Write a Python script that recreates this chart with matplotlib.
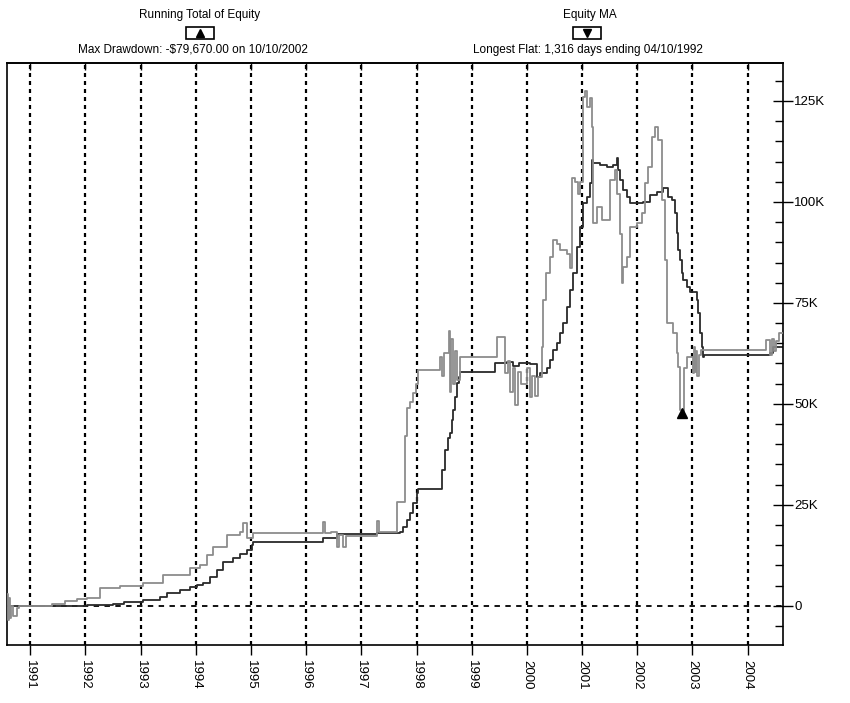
import matplotlib
matplotlib.use("Agg")
import matplotlib.pyplot as plt
from matplotlib.ticker import MultipleLocator, FuncFormatter
from matplotlib.patches import Rectangle

plt.rcParams['font.family'] = ['Liberation Sans', 'DejaVu Sans']

# Running Total of Equity (thousands of $), step series
equity_dates = [1990.58, 1990.60, 1990.62, 1990.64, 1990.66, 1990.68, 1990.76, 1990.80, 1990.86,
                1991.40, 1991.63, 1991.85, 1992.03, 1992.27, 1992.63, 1993.05, 1993.41, 1993.90,
                1994.08, 1994.21, 1994.32, 1994.57, 1994.80, 1994.86, 1994.93, 1995.04,
                1996.31, 1996.35, 1996.45, 1996.56, 1996.60, 1996.67, 1996.72,
                1997.29, 1997.32, 1997.65, 1997.79, 1997.83, 1997.88, 1997.94, 1997.99,
                1998.03, 1998.43, 1998.46, 1998.50, 1998.58, 1998.60, 1998.63, 1998.66,
                1998.70, 1998.74, 1998.79, 1999.46, 1999.61, 1999.66, 1999.70, 1999.74,
                1999.78, 1999.83, 1999.90, 2000.00, 2000.06, 2000.10, 2000.14, 2000.20,
                2000.28, 2000.29, 2000.35, 2000.42, 2000.47, 2000.55, 2000.60, 2000.73,
                2000.78, 2000.82, 2000.87, 2000.93, 2000.96, 2001.02, 2001.05, 2001.09,
                2001.14, 2001.18, 2001.20, 2001.27, 2001.36, 2001.51, 2001.60, 2001.63,
                2001.69, 2001.72, 2001.74, 2001.82, 2001.87, 2002.00, 2002.09, 2002.14,
                2002.20, 2002.27, 2002.32, 2002.38, 2002.45, 2002.50, 2002.54, 2002.56,
                2002.65, 2002.72, 2002.74, 2002.77, 2002.81, 2002.84, 2002.90, 2003.01,
                2003.03, 2003.05, 2003.07, 2003.09, 2003.12, 2003.16, 2004.33, 2004.40,
                2004.44, 2004.48, 2004.52, 2004.56, 2004.64]
equity_vals = [3.0, -3.5, 2.0, -3.0, 0.0, -2.5, -0.5, 0.0, 0.0,
               0.5, 1.2, 1.7, 2.0, 4.5, 5.0, 5.7, 7.7, 9.4,
               10.0, 12.6, 14.6, 17.6, 18.3, 20.5, 16.8, 18.0,
               20.8, 18.0, 18.4, 14.6, 17.5, 14.5, 17.2,
               21.0, 18.3, 25.7, 42.0, 49.0, 50.5, 52.7, 55.0,
               58.4, 61.6, 57.0, 62.6, 68.0, 53.0, 66.0, 55.0,
               63.0, 56.0, 61.6, 66.5, 57.6, 60.5, 53.0, 59.0,
               49.8, 58.0, 55.0, 59.0, 51.7, 57.0, 52.0, 56.7,
               64.0, 75.7, 82.4, 86.4, 90.6, 89.5, 88.0, 87.0,
               83.7, 106.0, 105.0, 102.0, 105.0, 126.0, 127.5, 123.5,
               125.7, 118.6, 94.8, 98.8, 95.5, 105.4, 108.0, 102.0,
               92.0, 80.0, 84.0, 86.4, 93.8, 94.8, 97.3, 104.7,
               108.7, 116.0, 118.6, 115.3, 100.5, 85.6, 70.0, 70.0,
               67.6, 62.6, 59.2, 48.5, 47.8, 59.0, 61.6, 57.7,
               64.0, 58.0, 63.0, 57.0, 62.0, 63.4, 65.8, 62.0,
               66.0, 63.0, 65.5, 67.6, 67.6]

# Equity moving average (thousands of $)
ma_dates = [1990.58, 1992.03, 1992.50, 1992.70, 1993.05, 1993.35, 1993.48, 1993.72, 1993.90,
            1994.03, 1994.14, 1994.26, 1994.39, 1994.50, 1994.68, 1994.80, 1994.93, 1995.02,
            1995.04, 1996.31, 1996.56, 1997.29, 1997.70, 1997.76, 1997.83, 1997.88, 1997.94,
            1998.01, 1998.03, 1998.46, 1998.52, 1998.57, 1998.61, 1998.64, 1998.66, 1998.70,
            1998.74, 1998.77, 1998.79, 1999.42, 1999.64, 1999.75, 1999.85, 2000.05, 2000.18,
            2000.24, 2000.37, 2000.42, 2000.47, 2000.55, 2000.60, 2000.66, 2000.73, 2000.78,
            2000.84, 2000.91, 2000.96, 2001.02, 2001.09, 2001.14, 2001.18, 2001.20, 2001.33,
            2001.45, 2001.56, 2001.63, 2001.65, 2001.69, 2001.74, 2001.82, 2001.87, 2002.11,
            2002.23, 2002.36, 2002.47, 2002.56, 2002.63, 2002.68, 2002.72, 2002.74, 2002.77,
            2002.81, 2002.83, 2002.90, 2002.96, 2003.08, 2003.10, 2003.14, 2003.17, 2003.19,
            2003.21, 2004.35, 2004.41, 2004.46, 2004.64]
ma_vals = [0.0, 0.2, 0.5, 1.0, 1.5, 2.3, 3.2, 4.0, 4.6,
           5.2, 5.6, 7.2, 8.9, 10.9, 11.9, 12.9, 13.9, 15.0,
           15.8, 16.8, 17.8, 18.0, 18.3, 19.6, 21.3, 23.0, 25.5,
           28.0, 29.0, 33.7, 38.6, 41.6, 42.8, 46.0, 48.5, 51.7,
           55.2, 56.7, 58.0, 60.1, 60.4, 59.5, 60.2, 59.8, 56.7,
           57.7, 58.9, 60.9, 63.4, 65.0, 67.6, 70.0, 74.0, 78.2,
           82.4, 88.9, 93.8, 99.8, 101.2, 104.7, 110.4, 109.7, 109.2,
           108.7, 109.2, 111.0, 108.0, 105.4, 103.0, 101.2, 99.8, 100.0,
           101.7, 102.5, 103.5, 101.2, 100.5, 97.3, 92.3, 88.0, 85.6,
           82.4, 80.7, 79.0, 77.7, 75.7, 72.5, 67.6, 64.1, 61.6,
           62.1, 62.1, 62.6, 64.0, 64.0]

years = list(range(1991, 2005))
drawdown_date = 2002.81
drawdown_val = 47.8

fig = plt.figure(figsize=(8.5, 7.03), dpi=100)
ax = fig.add_axes([7 / 850, 58 / 703, 776 / 850, 582 / 703])

for y in years:
    ax.axvline(y, color='black', lw=1.6, ls=(0, (1.8, 1.8)), zorder=1)
ax.axhline(0, color='black', lw=1.3, ls=(0, (3, 3)), zorder=1)

ax.step(equity_dates, equity_vals, where='post', color='#8c8c8c', lw=1.3, zorder=3)
ax.step(ma_dates, ma_vals, where='post', color='#2a2a2a', lw=1.3, zorder=2)
ax.plot([drawdown_date], [drawdown_val], marker='^', color='black', ms=7, zorder=4)

ax.set_xlim(1990.58, 2004.64)
ax.set_ylim(-9.7, 134.4)

ax.set_xticks(years)
ax.set_xticklabels([str(y) for y in years], rotation=270, fontsize=9.5)
ax.tick_params(axis='x', direction='out', length=7, width=1, pad=4)

top = ax.secondary_xaxis('top')
top.set_xticks(years)
top.set_xticklabels([])
top.tick_params(direction='in', length=5, width=1)
top.spines['top'].set_linewidth(1.2)

ax.yaxis.tick_right()
ax.yaxis.set_major_locator(MultipleLocator(25))
ax.yaxis.set_minor_locator(MultipleLocator(5))
ax.yaxis.set_major_formatter(FuncFormatter(lambda v, p: '0' if v == 0 else '%dK' % v))
ax.tick_params(axis='y', which='major', direction='inout', length=14, width=1, labelsize=9.5, pad=1)
ax.tick_params(axis='y', which='minor', direction='in', length=6, width=1)
for s in ax.spines.values():
    s.set_linewidth(1.2)

# legend header
fig.text(200 / 850, 1 - 15 / 703, 'Running Total of Equity', ha='center', va='center', fontsize=8.5)
fig.text(193 / 850, 1 - 50 / 703, 'Max Drawdown: -$79,670.00 on 10/10/2002', ha='center', va='center', fontsize=8.5)
fig.text(590 / 850, 1 - 15 / 703, 'Equity MA', ha='center', va='center', fontsize=8.5)
fig.text(588 / 850, 1 - 50 / 703, 'Longest Flat: 1,316 days ending 04/10/1992', ha='center', va='center', fontsize=8.5)

for cx, mk in [(200, '^'), (587, 'v')]:
    fig.patches.append(Rectangle(((cx - 14) / 850, 1 - 39 / 703), 28 / 850, 12 / 703,
                                 transform=fig.transFigure, fill=False, ec='black', lw=1.2))
    fig.add_artist(plt.Line2D([cx / 850], [1 - 33 / 703], marker=mk, color='black', ms=6,
                              transform=fig.transFigure))

fig.savefig('out.png', dpi=100)
